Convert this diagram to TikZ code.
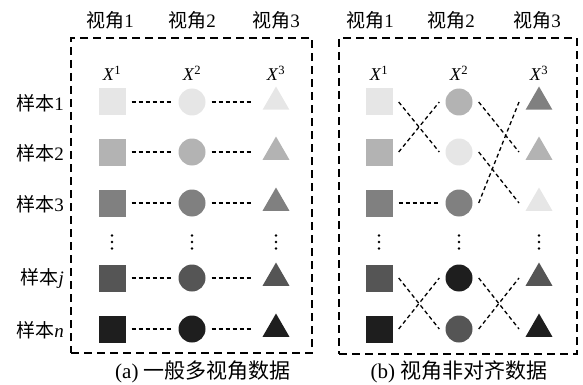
\documentclass[tikz,border=0pt]{standalone}
\usepackage{fontspec}
\setmainfont{Liberation Serif}
\newfontfamily\cjk{Noto Sans CJK SC}
\usetikzlibrary{shapes.geometric}
\definecolor{g1}{HTML}{E6E6E6}
\definecolor{g2}{HTML}{B3B3B3}
\definecolor{g3}{HTML}{808080}
\definecolor{g4}{HTML}{555555}
\definecolor{g5}{HTML}{1E1E1E}
\tikzset{
  sq/.style={rectangle, minimum size=27pt, inner sep=0pt, fill=#1},
  ci/.style={circle, minimum size=27pt, inner sep=0pt, fill=#1},
  tr/.style={regular polygon, regular polygon sides=3, minimum size=31pt, inner sep=0pt, fill=#1},
  conn/.style={dash pattern=on 4pt off 3pt, line width=1.3pt},
  boxline/.style={dash pattern=on 8pt off 5pt, line width=1.8pt},
  lab/.style={font=\fontsize{19}{22}\selectfont, inner sep=0pt},
  xlab/.style={font=\fontsize{18}{22}\selectfont, inner sep=0pt},
  captxt/.style={font=\fontsize{21}{24}\selectfont, inner sep=0pt},
  dotpt/.style={circle, fill=black, minimum size=2.6pt, inner sep=0pt},
}
\begin{document}
\begin{tikzpicture}[x=1pt,y=-1pt]
\useasboundingbox (0,0) rectangle (583,385);
% boxes
\node[draw, boxline, minimum width=241pt, minimum height=315pt, inner sep=0pt] (boxa) at (191.5,195.5) {};
\node[draw, boxline, minimum width=238pt, minimum height=316pt, inner sep=0pt] (boxb) at (458,196) {};
% top labels
\foreach \x/\k [count=\i] in {110/1,192/2,276/3} {
  \node[lab] (va\i) at (\x,20) {{\cjk 视角}\k};
}
\foreach \x/\k [count=\i] in {370/1,451/2,537/3} {
  \node[lab] (vb\i) at (\x,20) {{\cjk 视角}\k};
}
% X labels
\foreach \x/\k in {112/1,192/2,276/3} {
  \node[xlab] (xa\k) at (\x,73) {\textit{X}\textsuperscript{\k}};
}
\foreach \x/\k in {379/1,459/2,539/3} {
  \node[xlab] (xb\k) at (\x,73) {\textit{X}\textsuperscript{\k}};
}
% row labels
\node[lab, anchor=east] (r1) at (64,103) {{\cjk 样本}1};
\node[lab, anchor=east] (r2) at (64,153) {{\cjk 样本}2};
\node[lab, anchor=east] (r3) at (64,204) {{\cjk 样本}3};
\node[lab, anchor=east] (rj) at (64,279) {{\cjk 样本}\textit{j}};
\node[lab, anchor=east] (rn) at (64,330) {{\cjk 样本}\textit{n}};
% left box shapes
\foreach \r/\y/\c in {1/102/g1,2/152/g2,3/203/g3,j/278/g4,n/329/g5} {
  \node[sq=\c] (as\r) at (112,\y) {};
  \node[ci=\c] (ac\r) at (192,\y) {};
  \node[tr=\c] (at\r) at (276,\y) {};
  \draw[conn] ([xshift=6pt]as\r.east) -- ([xshift=-6pt]ac\r.west);
  \draw[conn] ([xshift=6pt]ac\r.east) -- ([xshift=-24pt]at\r.center);
}
% right box shapes
\foreach \r/\y/\cs/\cc/\ct in {1/102/g1/g2/g3,2/152/g2/g1/g2,3/203/g3/g3/g1,j/278/g4/g5/g4,n/329/g5/g4/g5} {
  \node[sq=\cs] (bs\r) at (379,\y) {};
  \node[ci=\cc] (bc\r) at (459,\y) {};
  \node[tr=\ct] (bt\r) at (539,\y) {};
}
\foreach \a/\b in {1/2,2/1,3/3,j/n,n/j} {
  \draw[conn] ([xshift=6pt]bs\a.east) -- ([xshift=-6pt]bc\b.west);
}
\foreach \a/\b in {1/2,2/3,3/1,j/n,n/j} {
  \draw[conn] ([xshift=6pt]bc\a.east) -- ([xshift=-20pt]bt\b.center);
}
% vertical dots
\foreach \x in {112,192,276,379,459,539} {
  \foreach \yy in {235.5,242,248.5} {
    \node[dotpt] at (\x,\yy) {};
  }
}
% captions
\node[captxt] (capa) at (203,372) {(a)\ {\cjk 一般多视角数据}};
\node[captxt] (capb) at (459,372) {(b)\ {\cjk 视角非对齐数据}};
\end{tikzpicture}
\end{document}
